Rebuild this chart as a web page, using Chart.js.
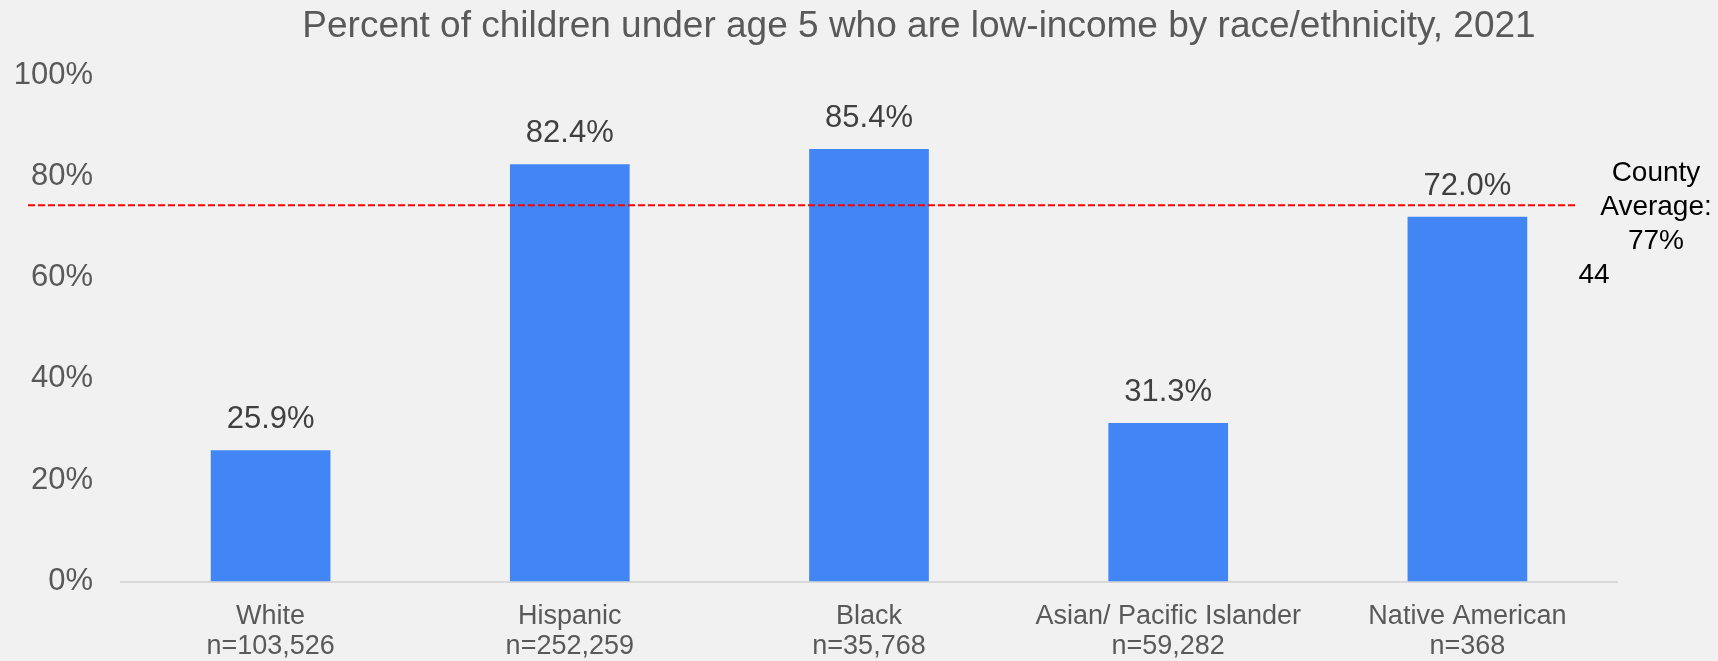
<!DOCTYPE html>
<html>
<head>
<meta charset="utf-8">
<script src="https://cdn.jsdelivr.net/npm/chart.js@4.4.1/dist/chart.umd.min.js"></script>
<style>
  html, body { margin: 0; padding: 0; background: #f0f1f0; }
  #wrap { width: 1718px; height: 661px; position: relative; }
</style>
</head>
<body>
<div id="wrap"><canvas id="c" width="1718" height="661"></canvas></div>
<script>
const titleText = 'Percent of children under age 5 who are low-income by race/ethnicity, 2021';
const categories = ['White', 'Hispanic', 'Black', 'Asian/ Pacific Islander', 'Native American'];
const sampleSizes = ['n=103,526', 'n=252,259', 'n=35,768', 'n=59,282', 'n=368'];
const values = [25.9, 82.4, 85.4, 31.3, 72.0];
const yTickValues = [0, 20, 40, 60, 80, 100];
const countyAverageLine = 74.3;
const countyAverageText = ['County', 'Average:', '77%'];
const strayLabel = '44';

const FONT = '"Liberation Sans", Arial, sans-serif';

const overlayPlugin = {
  id: 'overlay',
  afterDatasetsDraw(chart) {
    const ctx = chart.ctx;
    const area = chart.chartArea;
    const y = chart.scales.y;
    ctx.save();
    // title
    ctx.fillStyle = '#595959';
    ctx.font = '37px ' + FONT;
    ctx.textAlign = 'center';
    ctx.textBaseline = 'alphabetic';
    ctx.fillText(titleText, 919, 37);

    // data labels
    const meta = chart.getDatasetMeta(0);
    ctx.fillStyle = '#404040';
    ctx.font = '31px ' + FONT;
    meta.data.forEach((bar, i) => {
      ctx.fillText(values[i].toFixed(1) + '%', bar.x, bar.y - 22);
    });

    // county average dashed line
    const ly = y.getPixelForValue(countyAverageLine);
    ctx.strokeStyle = '#ff0000';
    ctx.lineWidth = 2;
    ctx.setLineDash([7, 3]);
    ctx.beginPath();
    ctx.moveTo(28, ly);
    ctx.lineTo(area.right - 40, ly);
    ctx.stroke();
    ctx.setLineDash([]);

    // annotation
    ctx.fillStyle = '#000000';
    ctx.font = '28px ' + FONT;
    ctx.textBaseline = 'middle';
    const ax = area.right + 39;
    const spacing = 34;
    countyAverageText.forEach((t, i) => {
      ctx.fillText(t, ax, ly - spacing + 2 + i * spacing);
    });
    ctx.fillText(strayLabel, area.right - 23, ly + 70);
    ctx.restore();
  }
};

new Chart(document.getElementById('c'), {
  type: 'bar',
  data: {
    labels: categories.map((c, i) => [c, sampleSizes[i]]),
    datasets: [{
      data: values,
      backgroundColor: '#4285f4',
      borderWidth: 0,
      barPercentage: 0.4,
      categoryPercentage: 1.0
    }]
  },
  options: {
    responsive: false,
    animation: false,
    devicePixelRatio: 1,
    layout: { padding: { top: 75, right: 101, left: 0, bottom: 0 } },
    plugins: {
      legend: { display: false },
      title: { display: false },
      tooltip: { enabled: false }
    },
    scales: {
      x: {
        grid: { display: false, drawTicks: false },
        border: { display: true, color: '#d9d9d9', width: 2 },
        ticks: {
          color: '#595959',
          font: { family: FONT, size: 27, lineHeight: 1.12 },
          padding: 20,
          maxRotation: 0,
          autoSkip: false
        },
        afterFit(scale) { scale.height = 79.5; }
      },
      y: {
        min: 0,
        max: 100,
        afterBuildTicks(scale) { scale.ticks = yTickValues.map(v => ({ value: v })); },
        grid: { display: false, drawTicks: false },
        border: { display: false },
        ticks: {
          color: '#595959',
          font: { family: FONT, size: 31 },
          padding: 28,
          callback: v => v + '%'
        },
        afterFit(scale) { scale.width = 121; }
      }
    }
  },
  plugins: [overlayPlugin]
});
</script>
</body>
</html>
